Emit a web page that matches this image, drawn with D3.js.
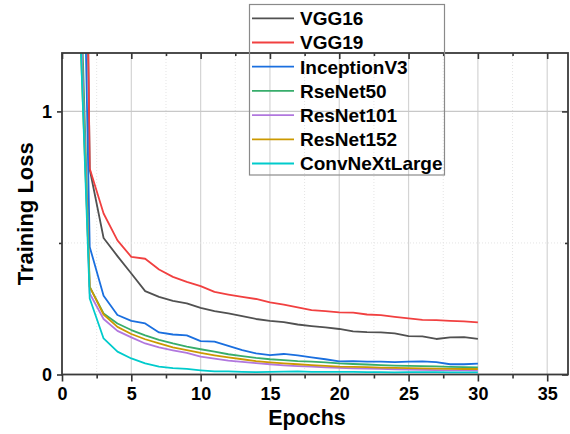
<!DOCTYPE html>
<html>
<head>
<meta charset="utf-8">
<script src="https://cdn.jsdelivr.net/npm/d3@7"></script>
<style>
  body { margin: 0; background: #fff; }
  svg text { font-family: "Liberation Sans", Arial, sans-serif; font-weight: bold; fill: #000; }
</style>
</head>
<body>
<svg id="chart" width="570" height="434"></svg>
<script>
const epochs = d3.range(1, 31);

const vgg16 = [4.8, 0.78, 0.519, 0.45, 0.384, 0.317, 0.295, 0.28, 0.27, 0.253, 0.241, 0.232, 0.222, 0.211, 0.204, 0.199, 0.19, 0.184, 0.179, 0.173, 0.164, 0.161, 0.16, 0.156, 0.146, 0.145, 0.135, 0.141, 0.142, 0.135];
const vgg19 = [5.0, 0.783, 0.612, 0.51, 0.447, 0.44, 0.399, 0.371, 0.352, 0.336, 0.314, 0.304, 0.295, 0.287, 0.274, 0.266, 0.255, 0.245, 0.241, 0.236, 0.235, 0.228, 0.226, 0.219, 0.213, 0.208, 0.207, 0.204, 0.202, 0.198];
const inceptionV3 = [3.2, 0.485, 0.299, 0.226, 0.204, 0.194, 0.16, 0.152, 0.149, 0.127, 0.125, 0.109, 0.093, 0.08, 0.074, 0.078, 0.073, 0.065, 0.058, 0.05, 0.051, 0.049, 0.049, 0.047, 0.049, 0.05, 0.047, 0.039, 0.039, 0.041];
const resNet50 = [2.1, 0.333, 0.232, 0.194, 0.169, 0.149, 0.132, 0.118, 0.106, 0.096, 0.087, 0.077, 0.07, 0.063, 0.058, 0.055, 0.051, 0.049, 0.046, 0.042, 0.04, 0.038, 0.036, 0.034, 0.033, 0.032, 0.031, 0.029, 0.028, 0.027];
const resNet101 = [1.9, 0.308, 0.211, 0.166, 0.141, 0.118, 0.103, 0.092, 0.082, 0.068, 0.06, 0.053, 0.048, 0.043, 0.039, 0.035, 0.032, 0.03, 0.027, 0.025, 0.023, 0.022, 0.021, 0.02, 0.019, 0.018, 0.017, 0.016, 0.016, 0.015];
const resNet152 = [1.75, 0.333, 0.228, 0.181, 0.154, 0.134, 0.118, 0.103, 0.093, 0.082, 0.073, 0.065, 0.058, 0.051, 0.046, 0.042, 0.039, 0.036, 0.033, 0.03, 0.029, 0.028, 0.026, 0.025, 0.024, 0.023, 0.022, 0.021, 0.021, 0.021];
const convNeXtLarge = [1.77, 0.289, 0.137, 0.087, 0.061, 0.042, 0.03, 0.024, 0.021, 0.016, 0.012, 0.012, 0.01, 0.009, 0.01, 0.011, 0.012, 0.01, 0.01, 0.01, 0.01, 0.009, 0.009, 0.008, 0.009, 0.009, 0.009, 0.008, 0.008, 0.008];

const seriesNames = ["VGG16", "VGG19", "InceptionV3", "RseNet50", "ResNet101", "ResNet152", "ConvNeXtLarge"];
const seriesValues = [vgg16, vgg19, inceptionV3, resNet50, resNet101, resNet152, convNeXtLarge];
const seriesColors = ["#515151", "#F14040", "#1A6FDF", "#37AD6B", "#B177DE", "#CC9900", "#00CBCC"];

const xTicks = [0, 5, 10, 15, 20, 25, 30, 35];
const xMinorTicks = [2.5, 7.5, 12.5, 17.5, 22.5, 27.5, 32.5];
const yTicks = [0, 1];
const yMinorTicks = [0.5];

const margin = {top: 53, right: 2, bottom: 59.5, left: 62};
const width = 570, height = 434;
const innerW = width - margin.left - margin.right;
const innerH = height - margin.top - margin.bottom;

const svg = d3.select("#chart");
const g = svg.append("g").attr("transform", `translate(${margin.left},${margin.top})`);

const x = d3.scaleLinear().domain([0, 36.5]).range([0, innerW]);
const y = d3.scaleLinear().domain([0, 1.222]).range([innerH, 0]);

// grid
g.selectAll(".gx-minor").data(xMinorTicks).enter().append("line")
  .attr("x1", d => x(d)).attr("x2", d => x(d)).attr("y1", 0).attr("y2", innerH)
  .attr("stroke", "#e4e4e4").attr("stroke-dasharray", "1,2");
g.selectAll(".gx").data(xTicks.slice(1)).enter().append("line")
  .attr("x1", d => x(d)).attr("x2", d => x(d)).attr("y1", 0).attr("y2", innerH)
  .attr("stroke", "#d4d4d4").attr("stroke-width", 1.2);
g.selectAll(".gy-minor").data(yMinorTicks).enter().append("line")
  .attr("x1", 0).attr("x2", innerW).attr("y1", d => y(d)).attr("y2", d => y(d))
  .attr("stroke", "#e4e4e4").attr("stroke-dasharray", "1,2");
g.selectAll(".gy").data(yTicks.slice(1)).enter().append("line")
  .attr("x1", 0).attr("x2", innerW).attr("y1", d => y(d)).attr("y2", d => y(d))
  .attr("stroke", "#c8c8c8").attr("stroke-width", 1.2);

// lines
svg.append("clipPath").attr("id", "clip").append("rect")
  .attr("width", innerW).attr("height", innerH);

const line = d3.line().x((d, i) => x(epochs[i])).y(d => y(d));
g.append("g").attr("clip-path", "url(#clip)")
  .selectAll("path").data(seriesValues).enter().append("path")
  .attr("d", line)
  .attr("fill", "none")
  .attr("stroke", (d, i) => seriesColors[i])
  .attr("stroke-width", 1.8)
  .attr("stroke-linejoin", "round");

// axes
function styleAxis(sel) {
  sel.select(".domain").remove();
  sel.selectAll(".tick line").attr("stroke", "#333").attr("stroke-width", 1.6);
  sel.selectAll(".tick text").style("font-size", "18px").attr("fill", "#000");
}

g.append("g").attr("transform", `translate(0,${innerH})`)
  .call(d3.axisBottom(x).tickValues(xTicks).tickSize(7).tickPadding(5.5).tickFormat(d3.format("d")))
  .call(styleAxis);
g.append("g").attr("transform", `translate(0,${innerH})`)
  .call(d3.axisBottom(x).tickValues(xMinorTicks).tickSize(4).tickFormat(""))
  .call(styleAxis);
g.append("g")
  .call(d3.axisLeft(y).tickValues(yTicks).tickSize(5).tickPadding(5).tickFormat(d3.format("d")))
  .call(styleAxis);
g.append("g")
  .call(d3.axisLeft(y).tickValues(yMinorTicks).tickSize(3).tickFormat(""))
  .call(styleAxis);
g.append("g")
  .call(d3.axisTop(x).tickValues(xTicks).tickSize(-6).tickFormat(""))
  .call(styleAxis);
g.append("g")
  .call(d3.axisTop(x).tickValues(xMinorTicks).tickSize(-3).tickFormat(""))
  .call(styleAxis);
g.append("g").attr("transform", `translate(${innerW},0)`)
  .call(d3.axisRight(y).tickValues(yTicks).tickSize(-6).tickFormat(""))
  .call(styleAxis);
g.append("g").attr("transform", `translate(${innerW},0)`)
  .call(d3.axisRight(y).tickValues(yMinorTicks).tickSize(-3).tickFormat(""))
  .call(styleAxis);

// frame
g.append("rect").attr("width", innerW).attr("height", innerH)
  .attr("fill", "none").attr("stroke", "#3a3a3a").attr("stroke-width", 1.8);

// axis titles
svg.append("text")
  .attr("x", 307).attr("y", 424.5)
  .attr("text-anchor", "middle")
  .style("font-size", "21.5px")
  .text("Epochs");
svg.append("text")
  .attr("transform", `translate(32.5,${margin.top + innerH / 2}) rotate(-90)`)
  .attr("text-anchor", "middle")
  .style("font-size", "22px")
  .text("Training Loss");

// legend
const legend = svg.append("g").attr("transform", "translate(249.5,4.5)");
legend.append("rect").attr("width", 195).attr("height", 170.5)
  .attr("fill", "none").attr("stroke", "#8a8a8a").attr("stroke-width", 1.2);
const items = legend.selectAll(".item").data(seriesNames).enter().append("g")
  .attr("transform", (d, i) => `translate(0,${13.8 + i * 24.2})`);
items.append("line")
  .attr("x1", 2.5).attr("x2", 44.5).attr("y1", 0).attr("y2", 0)
  .attr("stroke", (d, i) => seriesColors[i]).attr("stroke-width", 1.8);
items.append("text")
  .attr("x", 50.5).attr("y", 0).attr("dy", "0.36em")
  .style("font-size", "19px")
  .text(d => d);
</script>
</body>
</html>
